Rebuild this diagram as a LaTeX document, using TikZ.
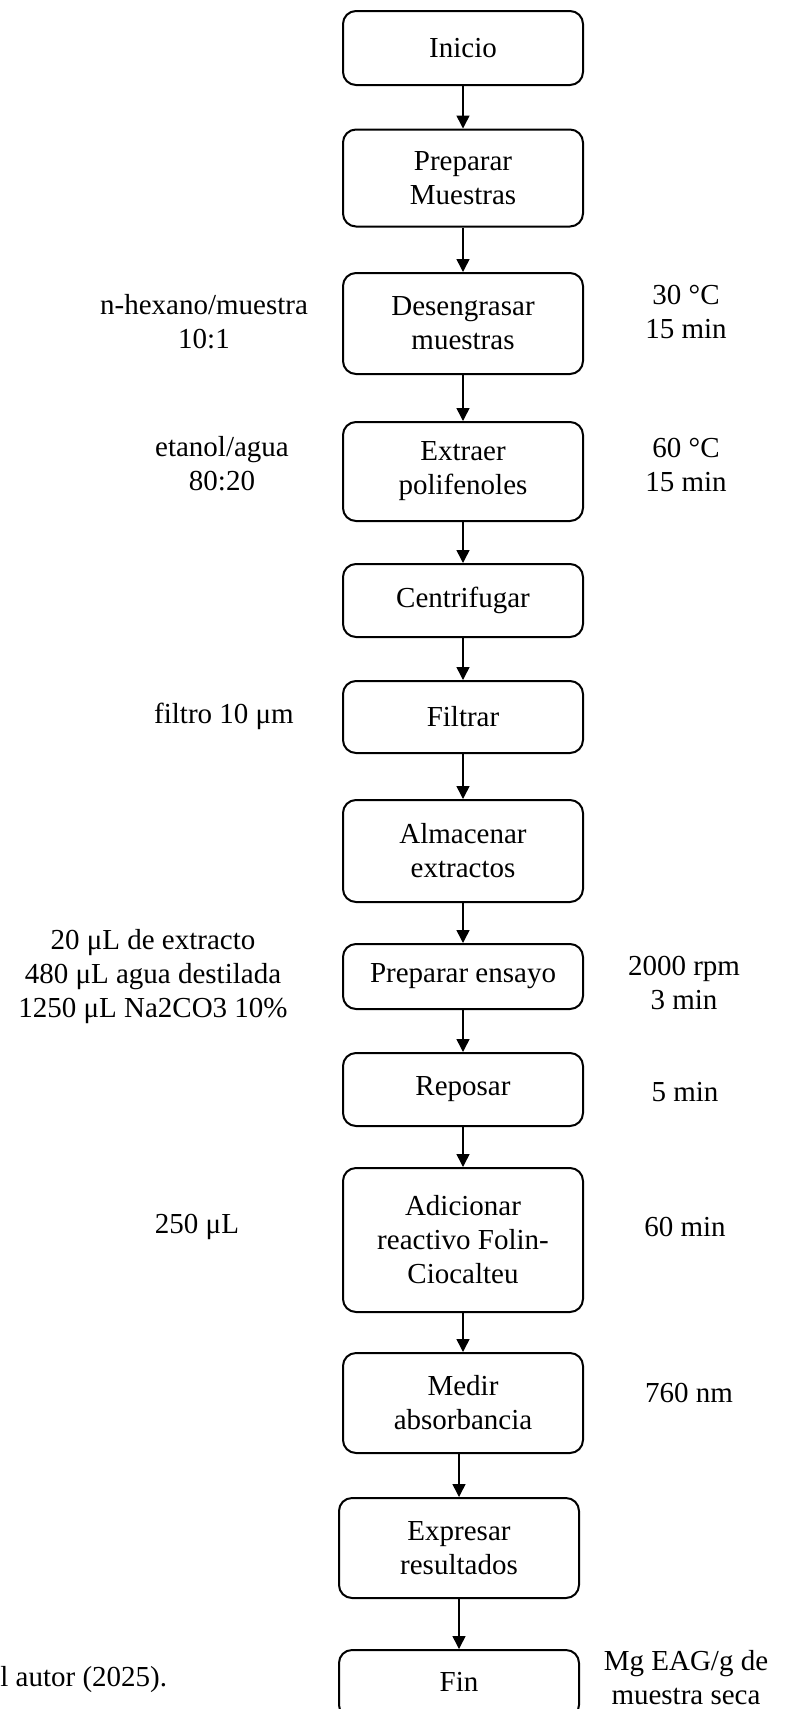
\documentclass[tikz,border=0pt]{standalone}
\usepackage{fontspec}
\setmainfont{Liberation Serif}
\usetikzlibrary{arrows.meta}
\begin{document}
\begin{tikzpicture}[x=0.5pt,y=-0.5pt,
  font=\fontsize{14.5}{17}\selectfont,
  stepbox/.style={draw,line width=1pt,rounded corners=6.5pt,align=center,
    minimum width=120pt,inner sep=0pt},
  side/.style={align=center,inner sep=0pt},
  arr/.style={line width=0.75pt,-{Triangle[length=6.5pt,width=6.5pt]}}]
\useasboundingbox (0,0) rectangle (809,1709);
\node[stepbox,minimum height=37pt] (ini) at (463,48) {Inicio};
\node[stepbox,minimum height=48.5pt] (prep) at (463,178) {Preparar\\Muestras};
\node[stepbox,minimum height=50.5pt] (des) at (463,323.5) {Desengrasar\\muestras};
\node[stepbox,minimum height=49.5pt] (ext) at (463,471.5) {Extraer\\polifenoles};
\node[stepbox,minimum height=36.5pt] (cen) at (463,600.5) {Centrifugar};
\node[stepbox,minimum height=36pt] (fil) at (463,717) {Filtrar};
\node[stepbox,minimum height=51pt] (alm) at (463,851) {Almacenar\\extractos};
\node[stepbox,minimum height=32.5pt] (ens) at (463,976.5) {Preparar ensayo};
\node[stepbox,minimum height=36.5pt] (rep) at (463,1089.5) {Reposar};
\node[stepbox,minimum height=72pt] (adi) at (463,1240) {Adicionar\\reactivo Folin-\\Ciocalteu};
\node[stepbox,minimum height=50pt] (med) at (463,1403) {Medir\\absorbancia};
\node[stepbox,minimum height=50pt] (exp) at (459,1548) {Expresar\\resultados};
\node[stepbox,minimum height=34pt] (fin) at (459,1684) {\raisebox{2pt}{Fin}};

\draw[arr] (ini) -- (prep);
\draw[arr] (prep) -- (des);
\draw[arr] (des) -- (ext);
\draw[arr] (ext) -- (cen);
\draw[arr] (cen) -- (fil);
\draw[arr] (fil) -- (alm);
\draw[arr] (alm) -- (ens);
\draw[arr] (ens) -- (rep);
\draw[arr] (rep) -- (adi);
\draw[arr] (adi) -- (med);
\draw[arr] (med.south -| exp.north) -- (exp.north);
\draw[arr] (exp) -- (fin);

\node[side] (l1) at (204,322) {n-hexano/muestra\\10:1};
\node[side] (r1) at (686,312) {30 °C\\15 min};
\node[side] (l2) at (222,464) {etanol/agua\\80:20};
\node[side] (r2) at (686,465) {60 °C\\15 min};
\node[side] (l3) at (224,716) {filtro 10 μm};
\node[side] (l4) at (153,977) {20 μL de extracto\\480 μL agua destilada\\1250 μL Na2CO3 10\%};
\node[side] (r4) at (684,983) {2000 rpm\\3 min};
\node[side] (r5) at (685,1092) {5 min};
\node[side] (l6) at (197,1227) {250 μL};
\node[side] (r6) at (685,1227) {60 min};
\node[side] (r7) at (689,1393) {760 nm};
\node[side,anchor=west] (src) at (0,1680) {l autor (2025).};
\node[side] (r8) at (686,1678) {Mg EAG/g de\\muestra seca};
\end{tikzpicture}
\end{document}
